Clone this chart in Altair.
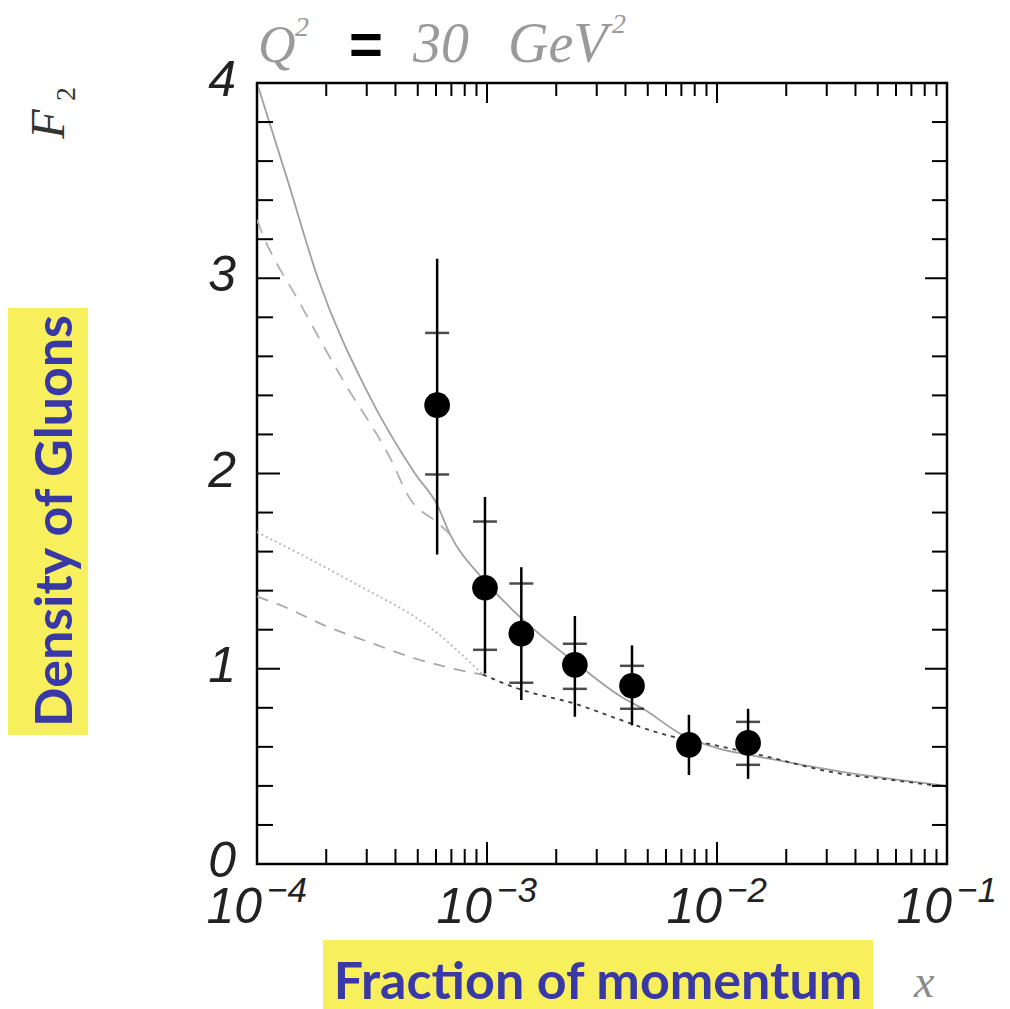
import altair as alt
import pandas as pd
import numpy as np

# ---------------- data ----------------
# measured points
pt_x = [6.07e-4, 9.8e-4, 1.41e-3, 2.41e-3, 4.27e-3, 7.55e-3, 1.365e-2]
pt_y = [2.35, 1.415, 1.18, 1.02, 0.913, 0.61, 0.62]
err_hi = [3.10, 1.88, 1.52, 1.27, 1.12, 0.764, 0.795]
err_lo = [1.585, 0.975, 0.84, 0.754, 0.71, 0.456, 0.436]
stat_hi = [2.72, 1.754, 1.436, 1.128, 1.015, np.nan, 0.728]
stat_lo = [1.995, 1.097, 0.928, 0.897, 0.795, np.nan, 0.508]

# curves
solid_x = [1.0e-4, 1.36e-4, 1.84e-4, 3.04e-4, 4.86e-4, 6.07e-4, 6.9e-4, 9.6e-4,
           1.35e-3, 2.62e-3, 3.91e-3, 4.77e-3, 7.1e-3, 1.03e-2, 1.36e-2, 2.29e-2,
           3.79e-2, 6.25e-2, 1.0e-1]
solid_y = [4.0, 3.5, 3.0, 2.41, 2.0, 1.84, 1.69, 1.46,
           1.28, 1.0, 0.85, 0.795, 0.66, 0.59, 0.56, 0.51,
           0.465, 0.43, 0.40]

dash_hi_x = [1.0e-4, 1.03e-4, 1.54e-4, 2.36e-4, 3.79e-4, 4.63e-4, 6.07e-4, 6.9e-4]
dash_hi_y = [3.30, 3.26, 2.87, 2.48, 2.08, 1.87, 1.75, 1.69]

dot_x = [1.0e-4, 2.54e-4, 5.82e-4, 9.6e-4]
dot_y = [1.70, 1.45, 1.20, 0.97]

dash_lo_x = [1.0e-4, 1.30e-4, 1.94e-4, 3.01e-4, 4.96e-4, 8.19e-4, 9.6e-4]
dash_lo_y = [1.37, 1.32, 1.225, 1.14, 1.05, 0.985, 0.97]

comb_x = [9.6e-4, 1.35e-3, 2.5e-3, 3.67e-3, 6.05e-3, 8.4e-3, 1.65e-2, 3.17e-2, 6.25e-2, 1.0e-1]
comb_y = [0.97, 0.90, 0.815, 0.745, 0.66, 0.625, 0.55, 0.47, 0.425, 0.395]

# axes
x_major = [1e-4, 1e-3, 1e-2, 1e-1]
x_major_exp = ["\u22124", "\u22123", "\u22122", "\u22121"]
x_minor = [m * 10.0 ** e for e in (-4, -3, -2) for m in range(2, 10)]
y_major = [0, 1, 2, 3, 4]
y_minor = [round(v, 1) for v in np.arange(0.2, 4.0, 0.2) if abs(v - round(v)) > 1e-6]

# ---------------- layout ----------------
OX, OY = 257, 83
W, H = 690, 781

xs = alt.Scale(type="log", domain=[1e-4, 1e-1], nice=False)
ys = alt.Scale(domain=[0, 4], nice=False, zero=False)


def X(f="x"):
    return alt.X(f"{f}:Q", scale=xs, axis=None)


def Y(f="y"):
    return alt.Y(f"{f}:Q", scale=ys, axis=None)


def curve(xv, yv, color, width, dash=None):
    kw = dict(color=color, strokeWidth=width, clip=True, interpolate="monotone")
    if dash is not None:
        kw["strokeDash"] = dash
    return alt.Chart(pd.DataFrame({"x": xv, "y": yv})).mark_line(**kw).encode(x=X(), y=Y())


layers = []
layers.append(curve(dash_hi_x, dash_hi_y, "#b0b0b0", 1.8, [14, 10]))
layers.append(curve(dot_x, dot_y, "#bdbdbd", 2.0, [2, 3]))
layers.append(curve(dash_lo_x, dash_lo_y, "#a8a8a8", 1.8, [12, 9]))
layers.append(curve(solid_x, solid_y, "#a0a0a0", 1.8))
layers.append(curve(comb_x, comb_y, "#3a3a3a", 1.8, [4, 5]))

pts = pd.DataFrame({"x": pt_x, "y": pt_y, "lo": err_lo, "hi": err_hi,
                    "slo": stat_lo, "shi": stat_hi})
layers.append(alt.Chart(pts).mark_rule(color="black", strokeWidth=2.5).encode(
    x=X(), y=Y("lo"), y2="hi:Q"))
st = pts.dropna()
for f in ("slo", "shi"):
    layers.append(alt.Chart(st).mark_tick(orient="horizontal", size=24, thickness=2.5,
                                          color="black").encode(x=X(), y=Y(f)))
layers.append(alt.Chart(pts).mark_circle(size=660, color="black", opacity=1).encode(
    x=X(), y=Y()))


# ticks (inward, all four sides)
def xticks(vals, lb, lt):
    d = pd.DataFrame({"x": vals})
    return [
        alt.Chart(d).mark_rule(color="black", strokeWidth=2).encode(
            x=X(), y=alt.value(H), y2=alt.value(H - lb)),
        alt.Chart(d).mark_rule(color="black", strokeWidth=2).encode(
            x=X(), y=alt.value(0), y2=alt.value(lt)),
    ]


def yticks(vals, ll, lr):
    d = pd.DataFrame({"y": vals})
    return [
        alt.Chart(d).mark_rule(color="black", strokeWidth=2).encode(
            y=Y(), x=alt.value(0), x2=alt.value(ll)),
        alt.Chart(d).mark_rule(color="black", strokeWidth=2).encode(
            y=Y(), x=alt.value(W), x2=alt.value(W - lr)),
    ]


layers += xticks(x_minor, 15, 13)
layers += xticks(x_major, 22, 20)
layers += yticks(y_minor, 16, 15)
layers += yticks(y_major, 23, 22)

# tick labels
TICKFONT = "Liberation Sans"
xl = pd.DataFrame({"x": x_major, "exp": x_major_exp, "base": ["10"] * 4})
layers.append(alt.Chart(xl).mark_text(font=TICKFONT, fontStyle="italic", fontSize=50,
                                      align="right", baseline="alphabetic", dx=5,
                                      color="#222222").encode(
    x=X(), y=alt.value(H + 59), text="base:N"))
layers.append(alt.Chart(xl).mark_text(font=TICKFONT, fontStyle="italic", fontSize=35,
                                      align="left", baseline="alphabetic", dx=10,
                                      color="#222222").encode(
    x=X(), y=alt.value(H + 38), text="exp:N"))
yl = pd.DataFrame({"y": y_major, "t": [str(v) for v in y_major]})
layers.append(alt.Chart(yl).mark_text(font=TICKFONT, fontStyle="italic", fontSize=50,
                                      align="right", baseline="middle", dx=0, dy=-2,
                                      color="#222222").encode(
    y=Y(), x=alt.value(-21), text="t:N"))


# annotations (absolute page coordinates converted to view coordinates)
def note(text, px, py, size, color, font="Liberation Serif", style="italic",
         weight="normal", angle=0, align="left", baseline="alphabetic"):
    kw = dict(font=font, fontSize=size, color=color, fontStyle=style, fontWeight=weight,
              align=align, baseline=baseline)
    if angle:
        kw["angle"] = angle
    return alt.Chart(pd.DataFrame({"t": [text]})).mark_text(**kw).encode(
        text="t:N", x=alt.value(px - OX), y=alt.value(py - OY))


def box(x0, y0, x1, y1, color):
    return alt.Chart(pd.DataFrame({"a": [0]})).mark_rect(color=color).encode(
        x=alt.value(x0 - OX), x2=alt.value(x1 - OX), y=alt.value(y0 - OY), y2=alt.value(y1 - OY))


GRAY = "#9a9a9a"
layers.append(note("Q", 258, 62, 52, GRAY))
layers.append(note("2", 295, 36, 28, GRAY))
layers.append(note("=", 366, 47, 58, "#000000", font="Liberation Sans", style="normal",
                   weight="bold", align="center", baseline="middle"))
layers.append(note("30", 413, 62, 56, GRAY))
layers.append(note("GeV", 508, 62, 56, GRAY))
layers.append(note("2", 612, 33, 28, GRAY))

layers.append(note("F", 50, 124, 48, "#333333", angle=270, align="center", baseline="middle"))
layers.append(note("2", 67, 94, 28, "#333333", style="normal", angle=270, align="center",
                   baseline="middle"))

YEL = "#f7ef5c"
BLUE = "#3838a6"
layers.append(box(8, 308, 88, 735, YEL))
layers.append(note("Density of Gluons", 72, 521, 52, BLUE, font="Lato", style="normal",
                   weight="bold", angle=270, align="center", baseline="alphabetic"))
layers.append(box(323, 940, 873, 1012, YEL))
layers.append(note("Fraction of momentum", 598, 999, 52, BLUE, font="Lato", style="normal",
                   weight="bold", align="center", baseline="alphabetic"))
layers.append(note("x", 914, 997, 46, "#8a8a8a"))

chart = alt.layer(*layers).properties(
    width=W, height=H,
    autosize=alt.AutoSizeParams(type="none"),
    padding={"left": OX, "top": OY, "right": 1010 - OX - W, "bottom": 1009 - OY - H},
    background="white",
).configure_view(stroke="black", strokeWidth=2.5)

chart.save("out.html", embed_options={"renderer": "svg", "actions": False})
